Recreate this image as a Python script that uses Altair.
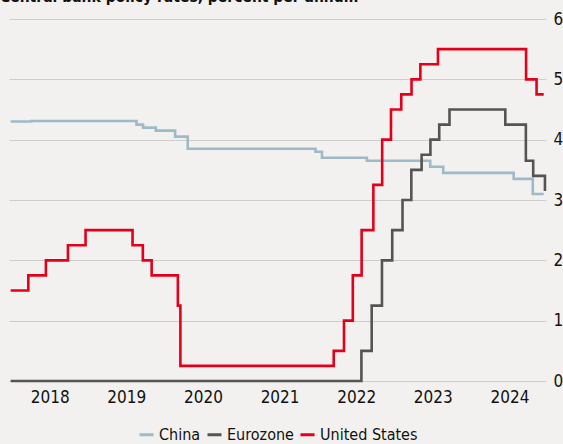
import altair as alt
import pandas as pd

# Policy-rate change dates and the level that applies from each date (percent)
china_dates = ["2017-12-28", "2018-04-05", "2019-08-20", "2019-09-20", "2019-11-20",
               "2020-02-20", "2020-04-20", "2021-12-20", "2022-01-20", "2022-08-22",
               "2023-06-20", "2023-08-21", "2024-07-22", "2024-10-21", "2024-12-12"]
china_rates = [4.30, 4.31, 4.25, 4.20, 4.15,
               4.05, 3.85, 3.80, 3.70, 3.65,
               3.55, 3.45, 3.35, 3.10, 3.10]

euro_dates = ["2017-12-28", "2022-07-27", "2022-09-14", "2022-11-02", "2022-12-21",
              "2023-02-08", "2023-03-22", "2023-05-10", "2023-06-21", "2023-08-02",
              "2023-09-20", "2024-06-12", "2024-09-18", "2024-10-23", "2024-12-18"]
euro_rates = [0.00, 0.50, 1.25, 2.00, 2.50,
              3.00, 3.50, 3.75, 4.00, 4.25,
              4.50, 4.25, 3.65, 3.40, 3.15]

us_dates = ["2017-12-28", "2018-03-22", "2018-06-14", "2018-09-27", "2018-12-20",
            "2019-08-01", "2019-09-19", "2019-10-31", "2020-03-04", "2020-03-16",
            "2022-03-17", "2022-05-05", "2022-06-16", "2022-07-28", "2022-09-22",
            "2022-11-03", "2022-12-15", "2023-02-02", "2023-03-23", "2023-05-04",
            "2023-07-27", "2024-09-19", "2024-11-08", "2024-12-12"]
us_rates = [1.50, 1.75, 2.00, 2.25, 2.50,
            2.25, 2.00, 1.75, 1.25, 0.25,
            0.50, 1.00, 1.75, 2.50, 3.25,
            4.00, 4.50, 4.75, 5.00, 5.25,
            5.50, 5.00, 4.75, 4.75]

series_names = ["China", "Eurozone", "United States"]
series_colors = ["#9dbac9", "#545454", "#e3001b"]
year_labels = [2018, 2019, 2020, 2021, 2022, 2023, 2024]
y_ticks = [0, 1, 2, 3, 4, 5, 6]

frames = []
for name, dates, rates in zip(series_names,
                              [china_dates, euro_dates, us_dates],
                              [china_rates, euro_rates, us_rates]):
    frames.append(pd.DataFrame({"date": dates, "rate": rates, "series": name}))
df = pd.concat(frames, ignore_index=True)

# year labels sit in the middle of each calendar year
label_positions = [alt.DateTime(year=y, month=7, date=2) for y in year_labels]

FONT = "DejaVu Sans Condensed"

chart = (
    alt.Chart(df)
    .mark_line(interpolate="step-after", strokeWidth=2.6, strokeJoin="miter", strokeCap="butt")
    .encode(
        x=alt.X(
            "date:T",
            scale=alt.Scale(domain=[alt.DateTime(year=2017, month=12, date=20),
                                    alt.DateTime(year=2024, month=12, date=23)]),
            axis=alt.Axis(
                values=label_positions, format="%Y", title=None, grid=False,
                ticks=False, domain=False, labelPadding=8, labelFontSize=17,
                labelFont=FONT, labelColor="#111111", labelFlush=False,
            ),
        ),
        y=alt.Y(
            "rate:Q",
            scale=alt.Scale(domain=[0, 6], nice=False),
            axis=alt.Axis(
                orient="right", values=y_ticks, title=None, ticks=False,
                domain=False, grid=True, gridColor="#cfcdcb", gridWidth=1,
                labelPadding=7, labelFontSize=17, labelFont=FONT,
                labelColor="#111111", labelAlign="left",
            ),
        ),
        color=alt.Color(
            "series:N",
            scale=alt.Scale(domain=series_names, range=series_colors),
            legend=alt.Legend(
                title=None, orient="none", direction="horizontal",
                legendX=129, legendY=407, symbolType="stroke",
                symbolSize=196, symbolStrokeWidth=3, labelFontSize=16,
                labelFont=FONT, labelColor="#111111", labelOffset=4,
                columnPadding=0,
            ),
        ),
        order=alt.Order("date:T"),
    )
    .properties(
        width=537,
        height=362,
        padding={"left": 9, "top": 19, "right": 17, "bottom": 63},
        autosize=alt.AutoSizeParams(type="none"),
        title=alt.TitleParams(
            "Central bank policy rates, percent per annum",
            anchor="start", frame="group", font=FONT, fontSize=15.5,
            fontWeight="bold", color="#111111", baseline="alphabetic",
            offset=11, dx=-9, dy=18,
        ),
    )
    .configure(background="#f2f1ef")
    .configure_view(stroke=None)
)

chart.save("out.html", embed_options={"renderer": "svg", "actions": False})
